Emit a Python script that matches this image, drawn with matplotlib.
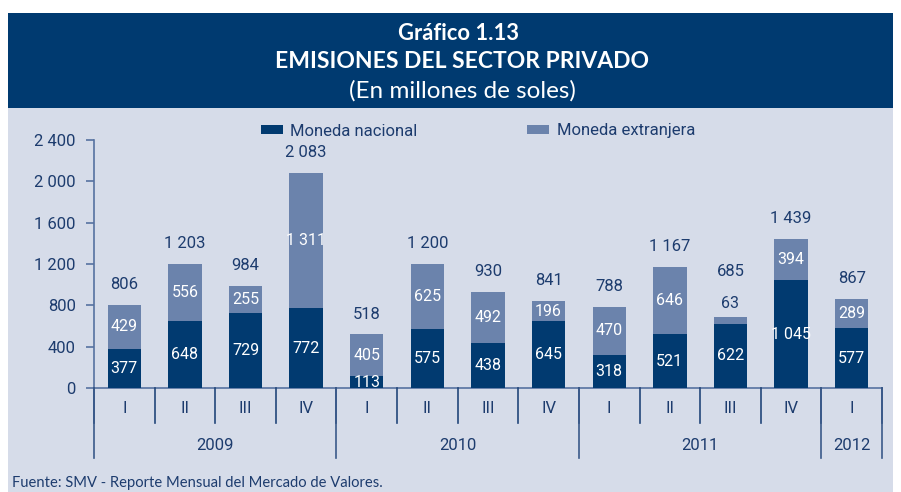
import matplotlib
matplotlib.use("Agg")
import matplotlib.pyplot as plt
from matplotlib.patches import Rectangle, Patch
import matplotlib.transforms as mtransforms
from matplotlib import font_manager

# ---------------- data ----------------
quarters = ["I", "II", "III", "IV", "I", "II", "III", "IV", "I", "II", "III", "IV", "I"]
years = ["2009", "2010", "2011", "2012"]
quarters_per_year = [4, 4, 4, 1]
moneda_nacional = [377, 648, 729, 772, 113, 575, 438, 645, 318, 521, 622, 1045, 577]
moneda_extranjera = [429, 556, 255, 1311, 405, 625, 492, 196, 470, 646, 63, 394, 289]
totals = [806, 1203, 984, 2083, 518, 1200, 930, 841, 788, 1167, 685, 1439, 867]
yticks = [0, 400, 800, 1200, 1600, 2000, 2400]

# ---------------- styles ----------------
NAVY = "#013a70"
LIGHT = "#6b83ac"
PANEL = "#d6dce9"
TXT = "#1d3c6e"
SPINE = "#5672a0"

avail = {f.name for f in font_manager.fontManager.ttflist}
narrow = "Liberation Sans Narrow" if "Liberation Sans Narrow" in avail else "Roboto"
NARROW = [narrow, "DejaVu Sans"]
HUMAN = ["Lato", "Open Sans", "DejaVu Sans"]

W, H = 901, 492
fig = plt.figure(figsize=(W / 100, H / 100), dpi=100)
fig.patch.set_facecolor("white")

def px(x0, y0, x1, y1):
    # pixel box (top-left origin) -> figure fraction rect
    return (x0 / W, 1 - y1 / H, (x1 - x0) / W, (y1 - y0) / H)

b = px(8, 13, 893, 108)
fig.add_artist(Rectangle((b[0], b[1]), b[2], b[3], transform=fig.transFigure,
                         facecolor="#003a70", edgecolor="none", zorder=0))
p = px(8, 108, 893, 492)
fig.add_artist(Rectangle((p[0], p[1]), p[2], p[3], transform=fig.transFigure,
                         facecolor=PANEL, edgecolor="none", zorder=0))

fig.text(459 / W, 1 - 34 / H, "Gráfico 1.13", color="white", fontsize=15.8,
         fontweight="bold", family=HUMAN, ha="center", va="center")
fig.text(462 / W, 1 - 62 / H, "EMISIONES DEL SECTOR PRIVADO", color="white",
         fontsize=16.5, fontweight="bold", family=HUMAN, ha="center", va="center")
fig.text(462 / W, 1 - 91 / H, "(En millones de soles)", color="white",
         fontsize=17.5, family=HUMAN, ha="center", va="center")
fig.text(12 / W, 1 - 483 / H, "Fuente: SMV - Reporte Mensual del Mercado de Valores.",
         color=TXT, fontsize=10.6, family=HUMAN, ha="left", va="center")

a = px(94, 140, 882, 388)
ax = fig.add_axes(a)
ax.set_facecolor("none")

x = list(range(len(quarters)))
bw = 0.55
ax.bar(x, moneda_nacional, width=bw, color=NAVY, zorder=3)
ax.bar(x, moneda_extranjera, width=bw, bottom=moneda_nacional, color=LIGHT, zorder=3)

ax.set_xlim(-0.5, len(quarters) - 0.5)
ax.set_ylim(0, 2400)
ax.set_yticks(yticks)
ax.set_yticklabels([f"{v:,}".replace(",", " ") for v in yticks])
ax.set_xticks([])

for s in ["top", "right"]:
    ax.spines[s].set_visible(False)
for s in ["left", "bottom"]:
    ax.spines[s].set_color(SPINE)
    ax.spines[s].set_linewidth(1.2)
ax.tick_params(axis="y", length=6, width=1.2, color=SPINE, pad=7,
               labelsize=12, labelcolor=TXT)
for lab in ax.get_yticklabels():
    lab.set_family(NARROW)

fmt = lambda v: f"{v:,}".replace(",", " ")

for i in x:
    mn, me, tot = moneda_nacional[i], moneda_extranjera[i], totals[i]
    ax.text(i, mn / 2, fmt(mn), ha="center", va="center", color="white",
            fontsize=11.5, family=NARROW, zorder=5)
    top = mn + me
    if me < 120:
        ax.annotate(fmt(me), (i, top), xytext=(0, 6.5), textcoords="offset points",
                    ha="center", va="baseline", color=TXT, fontsize=11.5,
                    family=NARROW, zorder=5)
        off = 29.5
    else:
        ax.text(i, mn + me / 2, fmt(me), ha="center", va="center", color="white",
                fontsize=11.5, family=NARROW, zorder=5)
        off = 11.5
    ax.annotate(fmt(tot), (i, top), xytext=(0, off), textcoords="offset points",
                ha="center", va="baseline", color=TXT, fontsize=12,
                family=NARROW, zorder=5)

trans = mtransforms.blended_transform_factory(ax.transData, ax.transAxes)
for i, q in enumerate(quarters):
    ax.text(i, -0.083, q, transform=trans, ha="center", va="center",
            color=TXT, fontsize=12, family=NARROW)

# dividers
for k in range(len(quarters) + 1):
    ax.plot([k - 0.5, k - 0.5], [0, -0.141], transform=trans, color="#23467a",
            lw=1.2, clip_on=False, zorder=4)
start = 0
for yr, n in zip(years, quarters_per_year):
    ax.plot([start - 0.5, start - 0.5], [0, -0.282], transform=trans, color="#3a5a8a",
            lw=1.2, clip_on=False, zorder=4)
    ax.text(start + (n - 1) / 2, -0.232, yr, transform=trans, ha="center",
            va="center", color=TXT, fontsize=12, family=NARROW)
    start += n
ax.plot([start - 0.5, start - 0.5], [0, -0.282], transform=trans, color="#3a5a8a",
        lw=1.2, clip_on=False, zorder=4)

handles = [Patch(facecolor=NAVY, label="Moneda nacional"),
           Patch(facecolor=LIGHT, label="Moneda extranjera")]
leg = ax.legend(handles=handles, ncol=2, frameon=False, loc="center left",
                bbox_to_anchor=((261 - 94) / (882 - 94), 1 + (140 - 131) / 248),
                handlelength=1.3, handleheight=0.45, handletextpad=0.45,
                columnspacing=6.6, borderpad=0, borderaxespad=0,
                prop={"family": NARROW, "size": 12})
for t in leg.get_texts():
    t.set_color(TXT)

fig.savefig("out.png", dpi=100)
